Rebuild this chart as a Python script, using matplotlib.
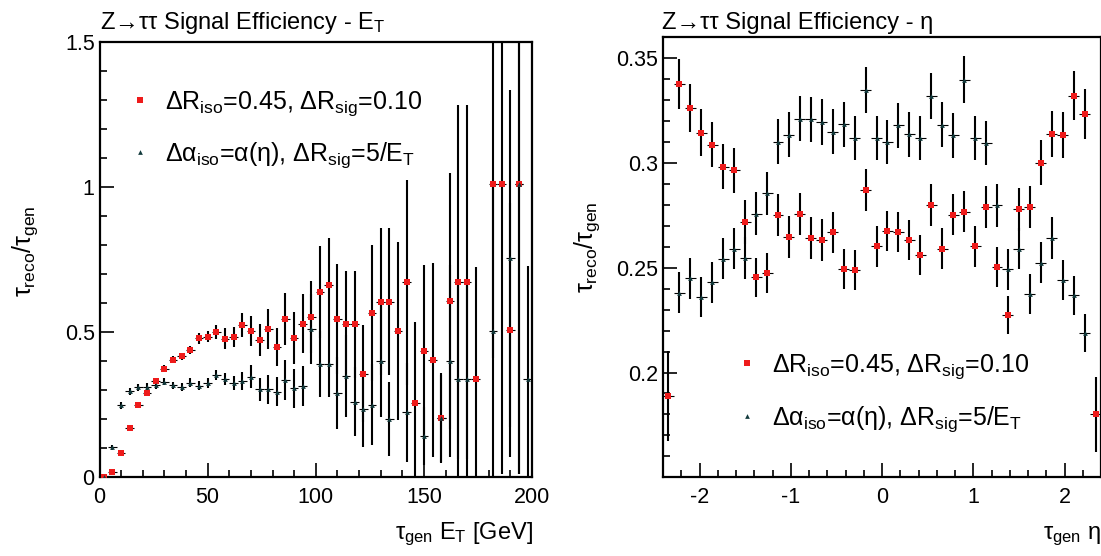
import numpy as np
import matplotlib
matplotlib.use("Agg")
import matplotlib.pyplot as plt
from matplotlib.ticker import MultipleLocator, FixedLocator, FormatStrFormatter
from matplotlib.lines import Line2D

plt.rcParams['font.family'] = ['Liberation Sans', 'DejaVu Sans']
plt.rcParams['mathtext.fontset'] = 'custom'
plt.rcParams['mathtext.rm'] = 'Liberation Sans'
plt.rcParams['mathtext.it'] = 'Liberation Sans'
plt.rcParams['mathtext.bf'] = 'Liberation Sans:bold'
plt.rcParams['axes.unicode_minus'] = False

# --- E_T panel: 4 GeV bins from 0 to 200
et_edges = np.arange(0, 204, 4)
et_centers = 0.5 * (et_edges[:-1] + et_edges[1:])
et_half = 0.5 * np.diff(et_edges)

nan = np.nan
et_red = [0.0, 0.018, 0.083, 0.169, 0.249, 0.291, 0.332, 0.374, 0.405, 0.417,
          0.439, 0.479, 0.485, 0.501, 0.478, 0.485, 0.525, 0.504, 0.472, 0.511,
          0.449, 0.545, 0.479, 0.530, 0.552, 0.639, 0.664, 0.546, 0.527, 0.527,
          0.357, 0.567, 0.605, 0.605, 0.506, 0.672, 0.255, 0.434, 0.404, 0.204,
          0.608, 0.674, 0.674, 0.339, nan, 1.01, 1.01, 0.508, 1.01, nan]
et_red_err = [0.005, 0.006, 0.008, 0.009, 0.010, 0.010, 0.011, 0.012, 0.012, 0.013,
              0.015, 0.018, 0.020, 0.024, 0.036, 0.034, 0.040, 0.052, 0.055, 0.070,
              0.066, 0.089, 0.090, 0.103, 0.125, 0.159, 0.160, 0.189, 0.186, 0.186,
              0.168, 0.235, 0.253, 0.253, 0.307, 0.353, 0.282, 0.298, 0.335, 0.156,
              0.440, 0.610, 0.610, 0.387, nan, 0.600, 1.000, 0.437, 1.000, nan]
et_blue = [0.0, 0.103, 0.249, 0.296, 0.310, 0.313, 0.317, 0.330, 0.317, 0.311,
           0.326, 0.316, 0.324, 0.352, 0.339, 0.324, 0.332, 0.347, 0.303, 0.303,
           0.295, 0.336, 0.307, 0.316, 0.512, 0.391, 0.391, 0.292, 0.349, 0.261,
           0.234, 0.250, 0.401, 0.201, nan, 0.224, nan, 0.143, nan, 0.204,
           0.401, 0.338, 0.338, nan, nan, 0.506, nan, 0.755, 1.01, 0.338]
et_blue_err = [0.005, 0.010, 0.012, 0.012, 0.012, 0.012, 0.012, 0.013, 0.013, 0.013,
               0.015, 0.016, 0.017, 0.017, 0.019, 0.024, 0.032, 0.040, 0.040, 0.050,
               0.050, 0.068, 0.067, 0.069, 0.120, 0.113, 0.113, 0.124, 0.140, 0.120,
               0.128, 0.139, 0.192, 0.126, nan, 0.170, nan, 0.100, nan, 0.150,
               0.330, 0.340, 0.340, nan, nan, 0.510, nan, 0.580, 1.000, 0.389]

# --- eta panel: 40 bins from -2.4 to 2.4
eta_edges = np.linspace(-2.4, 2.4, 41)
eta_centers = 0.5 * (eta_edges[:-1] + eta_edges[1:])
eta_half = 0.5 * np.diff(eta_edges)

eta_red = [0.1890, 0.3377, 0.3263, 0.3145, 0.3088, 0.2983, 0.2965, 0.2717, 0.2454, 0.2475,
           0.2752, 0.2648, 0.2755, 0.2642, 0.2631, 0.2669, 0.2494, 0.2490, 0.2871, 0.2602,
           0.2674, 0.2672, 0.2631, 0.2562, 0.2801, 0.2592, 0.2753, 0.2767, 0.2602, 0.2788,
           0.2505, 0.2274, 0.2779, 0.2790, 0.3002, 0.3137, 0.3132, 0.3322, 0.3233, 0.1801]
eta_red_err = [0.0215, 0.0119, 0.0115, 0.0112, 0.0109, 0.0106, 0.0107, 0.0105, 0.0095, 0.0095,
               0.0101, 0.0101, 0.0100, 0.0100, 0.0100, 0.0098, 0.0095, 0.0095, 0.0100, 0.0096,
               0.0096, 0.0096, 0.0096, 0.0095, 0.0100, 0.0096, 0.0097, 0.0098, 0.0096, 0.0100,
               0.0095, 0.0090, 0.0102, 0.0102, 0.0106, 0.0110, 0.0110, 0.0118, 0.0118, 0.0180]
eta_blue = [nan, 0.2382, 0.2449, 0.2361, 0.2430, 0.2543, 0.2592, 0.2546, 0.2758, 0.2855,
            0.3102, 0.3135, 0.3212, 0.3209, 0.3196, 0.3150, 0.3185, 0.3118, 0.3349, 0.3118,
            0.3099, 0.3180, 0.3137, 0.3119, 0.3320, 0.3183, 0.3132, 0.3397, 0.3121, 0.3097,
            0.2799, 0.2494, 0.2592, 0.2374, 0.2525, 0.2642, 0.2441, 0.2369, 0.2188, nan]
eta_blue_err = [nan, 0.0098, 0.0098, 0.0097, 0.0097, 0.0098, 0.0100, 0.0100, 0.0102, 0.0102,
                0.0107, 0.0108, 0.0108, 0.0108, 0.0108, 0.0107, 0.0107, 0.0105, 0.0110, 0.0105,
                0.0105, 0.0107, 0.0106, 0.0105, 0.0110, 0.0106, 0.0106, 0.0112, 0.0105, 0.0105,
                0.0102, 0.0098, 0.0100, 0.0095, 0.0098, 0.0100, 0.0096, 0.0094, 0.0092, nan]
eta_yticks = [0.2, 0.25, 0.3, 0.35]

label_red = r'$\Delta R_{iso}$=0.45, $\Delta R_{sig}$=0.10'
label_blue = r'$\Delta\alpha_{iso}$=$\alpha(\eta)$, $\Delta R_{sig}$=5/$E_T$'

RED = '#ee1b1b'
DARK = '#123a3c'
TICK_FS = 15.5
LABEL_FS = 17


def draw_series(ax, x, xh, y, yerr, color, marker, ms):
    ax.errorbar(x, y, yerr=yerr, fmt='none', ecolor='black', elinewidth=1.5, capsize=0, zorder=2)
    ax.errorbar(x, y, xerr=xh, fmt='none', ecolor='black', elinewidth=0.8, capsize=0, zorder=2)
    ax.plot(x, y, linestyle='none', marker=marker, color=color, markersize=ms,
            markeredgewidth=0, zorder=3)


def style_axes(ax):
    for s in ax.spines.values():
        s.set_linewidth(1.6)
    ax.tick_params(which='both', direction='in', top=False, right=False, labelsize=TICK_FS, width=1.2)
    ax.tick_params(which='major', length=10)
    ax.tick_params(which='minor', length=5)
    ax.tick_params(axis='x', pad=7)


fig = plt.figure(figsize=(11.01, 5.56), dpi=100)

h_red = Line2D([], [], linestyle='none', marker='s', color=RED, markersize=4.5, markeredgewidth=0)
h_blue = Line2D([], [], linestyle='none', marker='^', color=DARK, markersize=3.4, markeredgewidth=0)

# left: E_T
ax1 = fig.add_axes([99.5 / 1101, 78.7 / 556, 432.5 / 1101, 435 / 556])
draw_series(ax1, et_centers, et_half, et_red, et_red_err, RED, 's', 4.8)
draw_series(ax1, et_centers, et_half, et_blue, et_blue_err, DARK, '^', 3.4)
ax1.set_xlim(0, 200)
ax1.set_ylim(0, 1.5)
ax1.xaxis.set_major_locator(MultipleLocator(50))
ax1.xaxis.set_minor_locator(MultipleLocator(10))
ax1.yaxis.set_major_locator(MultipleLocator(0.5))
ax1.yaxis.set_minor_locator(MultipleLocator(0.1))
ax1.yaxis.set_major_formatter(FormatStrFormatter('%g'))
style_axes(ax1)

ax1.legend([h_red, h_blue], [label_red, label_blue], loc='upper left',
           bbox_to_anchor=(0.07, 0.891), frameon=False, fontsize=18,
           handlelength=0.8, handletextpad=0.6, labelspacing=0.86, borderpad=0, borderaxespad=0)

fig.text(100 / 1101, 1 - 29 / 556, 'Z\u2192\u03c4\u03c4 Signal Efficiency - E$_T$', fontsize=17)
fig.text(533 / 1101, 1 - 539 / 556, r'$\tau_{gen}$ $E_T$ [GeV]', fontsize=LABEL_FS, ha='right')
fig.text(25 / 1101, 1 - 251 / 556, r'$\tau_{reco}/\tau_{gen}$', fontsize=18, rotation=90,
         ha='center', va='center')

# right: eta
ax2 = fig.add_axes([663 / 1101, 78.7 / 556, 438 / 1101, 440 / 556])
draw_series(ax2, eta_centers, eta_half, eta_red, eta_red_err, RED, 's', 4.8)
draw_series(ax2, eta_centers, eta_half, eta_blue, eta_blue_err, DARK, '^', 3.4)
ax2.set_xlim(-2.4, 2.4)
ax2.set_ylim(0.15, 0.36)
ax2.xaxis.set_major_locator(MultipleLocator(1))
ax2.xaxis.set_minor_locator(MultipleLocator(0.2))
ax2.xaxis.set_major_formatter(FormatStrFormatter('%g'))
ax2.yaxis.set_major_locator(FixedLocator(eta_yticks))
ax2.yaxis.set_minor_locator(MultipleLocator(0.01))
ax2.yaxis.set_major_formatter(FormatStrFormatter('%g'))
style_axes(ax2)

ax2.legend([h_red, h_blue], [label_red, label_blue], loc='upper left',
           bbox_to_anchor=(0.17, 0.285), frameon=False, fontsize=18,
           handlelength=0.8, handletextpad=0.6, labelspacing=0.96, borderpad=0, borderaxespad=0)

fig.text(662 / 1101, 1 - 29 / 556, 'Z\u2192\u03c4\u03c4 Signal Efficiency - \u03b7', fontsize=17)
fig.text(1101 / 1101, 1 - 539 / 556, r'$\tau_{gen}$ $\eta$', fontsize=LABEL_FS, ha='right')
fig.text(587 / 1101, 1 - 247 / 556, r'$\tau_{reco}/\tau_{gen}$', fontsize=18, rotation=90,
         ha='center', va='center')

fig.savefig('out.png', dpi=100)
